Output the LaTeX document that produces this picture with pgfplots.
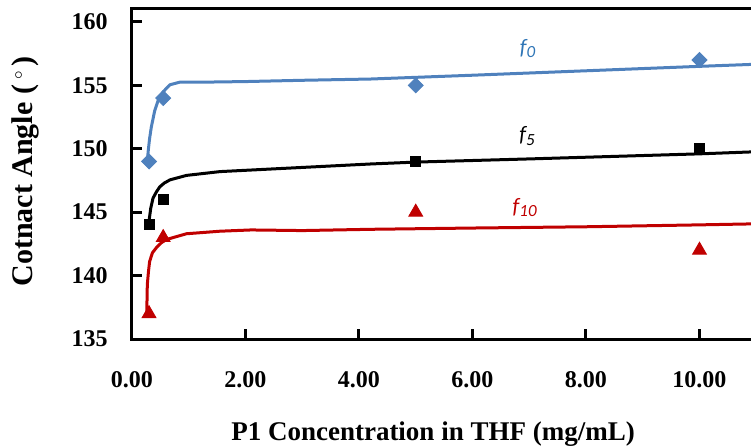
\documentclass[border=0pt]{standalone}
\usepackage{pgfplots}
\pgfplotsset{compat=1.18}
\usepackage{fontspec}
\setmainfont{Liberation Serif}
\newfontfamily\carlito{Carlito}
\definecolor{xblue}{HTML}{4F81BD}
\definecolor{xbluet}{HTML}{2E75B6}
\definecolor{xred}{HTML}{C00000}
\begin{document}
\begin{tikzpicture}
\path[clip, use as bounding box] (-66pt,-53.5pt) rectangle (309.5pt,169.5pt);
\begin{axis}[
  at={(0,0)}, anchor=south west,
  scale only axis, width=317.8pt, height=165.5pt,
  xmin=0, xmax=11.2, ymin=135, ymax=161.1,
  xtick={0,2,4,6,8,10}, ytick={135,140,145,150,155,160},
  tick pos=left, tick align=inside, major tick length=5pt,
  tick style={black, line width=1.5pt},
  axis line style={line width=1.5pt},
  /pgf/number format/assume math mode=true,
  ticklabel style={font=\fontsize{12}{14}\selectfont\bfseries, inner sep=0pt},
  xticklabel style={/pgf/number format/fixed, /pgf/number format/fixed zerofill, /pgf/number format/precision=2, anchor=north, yshift=-16pt},
  yticklabel style={anchor=east, xshift=-12pt},
  xlabel={P1 Concentration in THF (mg/mL)},
  xlabel style={font=\fontsize{13.5}{15}\selectfont\bfseries, at={(axis description cs:0.4736,0)}, anchor=base, yshift=-50.5pt},
  ylabel={Cotnact Angle (\,\raisebox{0.75ex}{\fontsize{8}{8}\selectfont$\circ$}\,)},
  ylabel style={font=\fontsize{15}{17}\selectfont\bfseries, at={(axis description cs:-0.1558,0.506)}, anchor=base},
]
% fitted curves
\addplot[xblue, line width=1.5pt] coordinates {
 (0.27,149.1) (0.29,150.0) (0.31,150.8) (0.34,151.7) (0.40,153.0) (0.46,153.8) (0.55,154.5) (0.67,155.05) (0.84,155.25) (1.2,155.25) (2.0,155.3) (3.0,155.4) (4.2,155.5) (6,155.8) (8,156.15) (10,156.5) (11.2,156.7)};
\addplot[black, line width=1.5pt] coordinates {
 (0.30,144.3) (0.33,145.3) (0.37,146.1) (0.43,146.6) (0.49,147.0) (0.57,147.3) (0.67,147.55) (0.96,147.9) (1.55,148.2) (2.43,148.4) (4.2,148.8) (5,148.95) (7,149.2) (10,149.6) (11.2,149.8)};
\addplot[xred, line width=1.5pt] coordinates {
 (0.26,137.0) (0.27,139.3) (0.29,140.3) (0.31,141.1) (0.36,141.8) (0.43,142.2) (0.52,142.6) (0.61,142.85) (0.96,143.3) (1.55,143.5) (2.1,143.6) (3,143.55) (4.2,143.65) (6,143.75) (8,143.85) (10,144.0) (11.2,144.1)};
% data
\addplot[only marks, mark=square*, mark size=2.65pt, mark options={rotate=45, fill=xblue, draw=xblue}] coordinates {(0.3,149) (0.55,154) (5,155) (10,157)};
\addplot[only marks, mark=square*, mark size=2.5pt, mark options={fill=black, draw=black}] coordinates {(0.3,144) (0.55,146) (5,149) (10,150)};
\addplot[only marks, mark=triangle*, mark size=4pt, mark options={fill=xred, draw=xred}] coordinates {(0.3,137) (0.55,143) (5,145) (10,142)};
\draw[line width=1.5pt] (rel axis cs:0,1) -- (rel axis cs:1,1);
\node[text=xbluet, font=\fontsize{11}{13}\selectfont\carlito\itshape] at (axis cs:6.97,157.9) {f\raisebox{-0.3ex}{\fontsize{8.5}{9}\selectfont 0}};
\node[text=black, font=\fontsize{11}{13}\selectfont\carlito\itshape] at (axis cs:6.96,151.0) {f\raisebox{-0.3ex}{\fontsize{8.5}{9}\selectfont 5}};
\node[text=xred, font=\fontsize{11}{13}\selectfont\carlito\itshape] at (axis cs:6.92,145.4) {f\raisebox{-0.3ex}{\fontsize{8.5}{9}\selectfont 10}};
\end{axis}
\end{tikzpicture}
\end{document}
